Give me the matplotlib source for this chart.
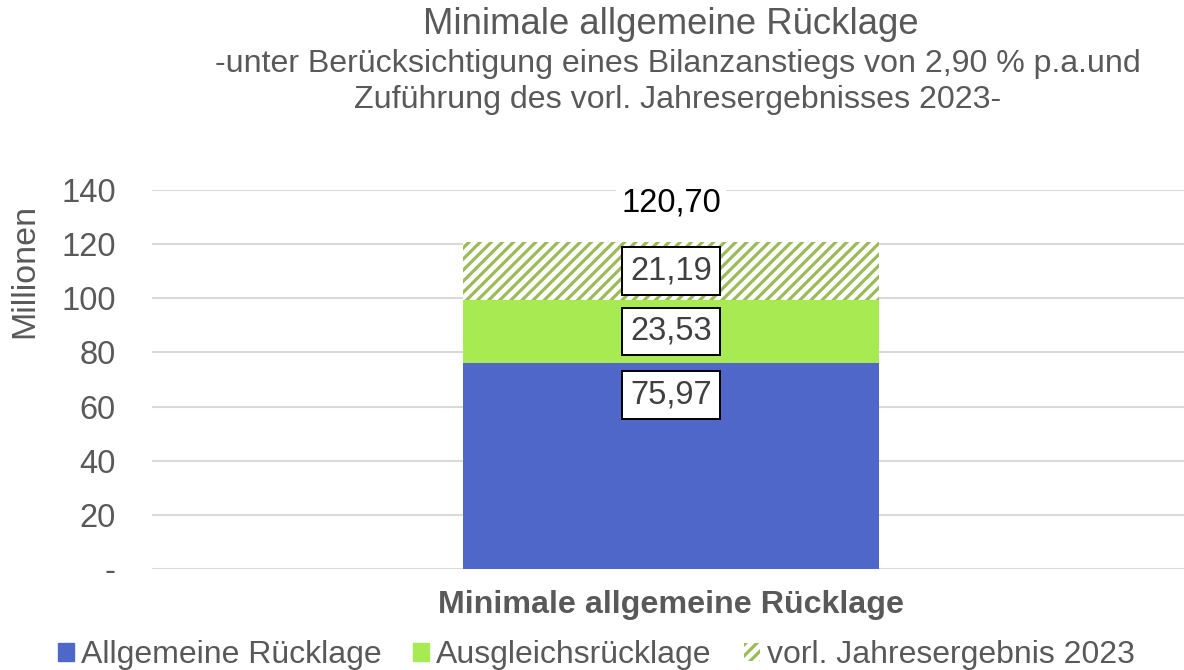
import matplotlib
matplotlib.use('Agg')
import matplotlib.pyplot as plt
from matplotlib.patches import Patch

plt.rcParams['font.family'] = ['Liberation Sans', 'DejaVu Sans']
plt.rcParams['hatch.linewidth'] = 2.3

categories = ["Minimale allgemeine Rücklage"]
allgemeine = [75.97]
ausgleich = [23.53]
jahresergebnis = [21.19]
totals = [120.70]
yticks = [0, 20, 40, 60, 80, 100, 120, 140]
ytick_labels = ["-", "20", "40", "60", "80", "100", "120", "140"]

GRAY = "#595959"
BLUE = "#4E67C8"
GREEN = "#A7EA52"
HATCH = "#9BBB59"

fig = plt.figure(figsize=(11.84, 6.70), dpi=100)
ax = fig.add_axes([152/1184, 101/670, 1 - 152/1184, 379/670])

x = list(range(len(categories)))
w = 0.403
b1 = ax.bar(x, allgemeine, w, color=BLUE, zorder=2)
b2 = ax.bar(x, ausgleich, w, bottom=allgemeine, color=GREEN, zorder=2)
bottom3 = [a + b for a, b in zip(allgemeine, ausgleich)]
b3 = ax.bar(x, jahresergebnis, w, bottom=bottom3, color="white",
            edgecolor=HATCH, hatch="///", linewidth=0, zorder=2)

box = dict(boxstyle="square,pad=0.25", fc="white", ec="black", lw=1.4)


def fmt(v):
    return f"{v:.2f}".replace(".", ",")


# blue label sits at the inside end, the others centred
ax.bar_label(b1, labels=[fmt(r.get_height()) for r in b1], label_type="edge",
             padding=-34, fontsize=23.5, color="#404040", bbox=box, zorder=5)
for bars in (b2, b3):
    ax.bar_label(bars, labels=[fmt(r.get_height()) for r in bars],
                 label_type="center", fontsize=23.5, color="#404040",
                 bbox=box, zorder=5)

for xi, t in zip(x, totals):
    ax.annotate(fmt(t), (xi, t), xytext=(0, 28),
                textcoords="offset points", ha="center", va="center",
                fontsize=23.5, color="black",
                bbox=dict(boxstyle="square,pad=0.15", fc="white", ec="none"))

ax.set_xlim(-0.503, 0.497)
ax.set_ylim(0, 140)
ax.set_yticks(yticks)
ax.set_yticklabels(ytick_labels)
ax.set_xticks(x)
ax.set_xticklabels([""])
ax.tick_params(axis="y", length=0, pad=26, labelsize=23.5, labelcolor=GRAY)
ax.tick_params(axis="x", length=0)
ax.grid(axis="y", color="#D9D9D9", lw=1.5, zorder=0)
for s in ax.spines.values():
    s.set_visible(False)

fig.text(671/1184, 1 - 605/670, categories[0], ha="center", va="center",
         fontsize=23.2, fontweight="bold", color=GRAY)
fig.text(25/1184, 1 - 271/670, "Millionen", rotation=90, ha="center",
         va="center", fontsize=24.5, color=GRAY)

fig.text(671/1184, 1 - 25/670, "Minimale allgemeine Rücklage", ha="center",
         va="center", fontsize=26.3, color=GRAY)
fig.text(678/1184, 1 - 64/670,
         "-unter Berücksichtigung eines Bilanzanstiegs von 2,90 % p.a.und",
         ha="center", va="center", fontsize=23.1, color=GRAY)
fig.text(678/1184, 1 - 100/670, "Zuführung des vorl. Jahresergebnisses 2023-",
         ha="center", va="center", fontsize=23.1, color=GRAY)

handles = [Patch(color=BLUE, label="Allgemeine Rücklage"),
           Patch(color=GREEN, label="Ausgleichsrücklage"),
           Patch(facecolor="white", edgecolor=HATCH, hatch="///", lw=0,
                 label="vorl. Jahresergebnis 2023")]
fig.legend(handles=handles, loc="center", bbox_to_anchor=(596/1184, 1 - 655/670),
           ncol=3, frameon=False, fontsize=23, labelcolor=GRAY,
           handlelength=0.5, handleheight=0.5, handletextpad=0.22,
           columnspacing=1.0, borderpad=0)

fig.savefig("out.png", dpi=100)
